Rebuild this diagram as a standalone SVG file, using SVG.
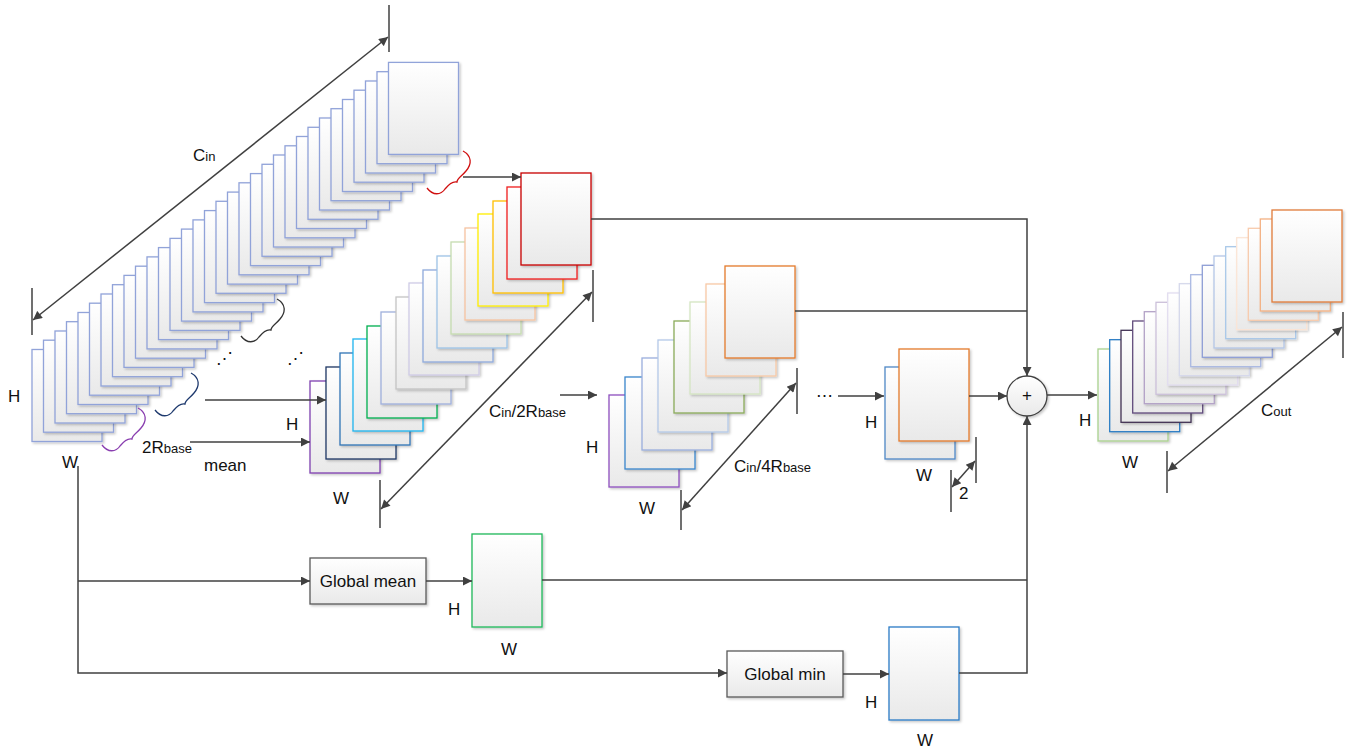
<svg xmlns="http://www.w3.org/2000/svg" width="1355" height="748" viewBox="0 0 1355 748">
<defs>
<linearGradient id="g" x1="0" y1="0" x2="0" y2="1"><stop offset="0" stop-color="#ffffff"/><stop offset="1" stop-color="#e9e9e9"/></linearGradient>
<filter id="ds" x="-10%" y="-10%" width="130%" height="130%"><feDropShadow dx="1.5" dy="1.5" stdDeviation="1" flood-color="#000" flood-opacity="0.22"/></filter>
<marker id="ah" viewBox="0 0 10 10" refX="10" refY="5" markerWidth="11" markerHeight="9" markerUnits="userSpaceOnUse" orient="auto-start-reverse"><path d="M0,0 L10,5 L0,10 z" fill="#404040"/></marker>
<path id="brace" d="M0,0 C9,5 9,13 3,20 C-1,25 -6,27 -6,31 C-10,30 -14,33 -18,38 C-22,44 -30,45 -36,37"/>
</defs>
<style>
.sh{fill:url(#g);stroke-width:1.3;filter:url(#ds)}
.s1 rect{stroke:#91a3d9}
.ln{fill:none;stroke:#404040;stroke-width:1.5}
.ar{marker-end:url(#ah)}
.da{marker-start:url(#ah);marker-end:url(#ah)}
.br{fill:none;stroke-width:1.3}
text{font-family:"Liberation Sans",Arial,sans-serif;fill:#111;font-size:17px}
.sub{font-size:13px}
.box{fill:url(#g);stroke:#595959;stroke-width:1.3;filter:url(#ds)}
</style>

<g id="input-stack" class="s1">
<rect class="sh" x="32" y="349.5" width="70" height="92"/>
<rect class="sh" x="43.5" y="340.2" width="70" height="92"/>
<rect class="sh" x="55" y="331" width="70" height="92"/>
<rect class="sh" x="66.5" y="321.7" width="70" height="92"/>
<rect class="sh" x="78" y="312.5" width="70" height="92"/>
<rect class="sh" x="89.5" y="303.2" width="70" height="92"/>
<rect class="sh" x="101" y="294" width="70" height="92"/>
<rect class="sh" x="112.5" y="284.7" width="70" height="92"/>
<rect class="sh" x="124" y="275.4" width="70" height="92"/>
<rect class="sh" x="135.5" y="266.2" width="70" height="92"/>
<rect class="sh" x="147" y="256.9" width="70" height="92"/>
<rect class="sh" x="158.5" y="247.6" width="70" height="92"/>
<rect class="sh" x="170" y="238.4" width="70" height="92"/>
<rect class="sh" x="181.5" y="229.1" width="70" height="92"/>
<rect class="sh" x="193" y="219.9" width="70" height="92"/>
<rect class="sh" x="204.5" y="210.6" width="70" height="92"/>
<rect class="sh" x="216" y="201.3" width="70" height="92"/>
<rect class="sh" x="227.5" y="192.1" width="70" height="92"/>
<rect class="sh" x="239" y="182.8" width="70" height="92"/>
<rect class="sh" x="250.5" y="173.6" width="70" height="92"/>
<rect class="sh" x="262" y="164.3" width="70" height="92"/>
<rect class="sh" x="273.5" y="155" width="70" height="92"/>
<rect class="sh" x="285" y="145.8" width="70" height="92"/>
<rect class="sh" x="296.5" y="136.5" width="70" height="92"/>
<rect class="sh" x="308" y="127.3" width="70" height="92"/>
<rect class="sh" x="319.5" y="118" width="70" height="92"/>
<rect class="sh" x="331" y="108.7" width="70" height="92"/>
<rect class="sh" x="342.5" y="99.5" width="70" height="92"/>
<rect class="sh" x="354" y="90.2" width="70" height="92"/>
<rect class="sh" x="365.5" y="81" width="70" height="92"/>
<rect class="sh" x="377" y="71.7" width="70" height="92"/>
<rect class="sh" x="388.5" y="62.4" width="70" height="92"/>
</g>

<g id="braces">
<use href="#brace" class="br" stroke="#d01010" x="463" y="151"/>
<use href="#brace" class="br" stroke="#333333" x="277" y="299"/>
<use href="#brace" class="br" stroke="#1f3a6e" x="191" y="373"/>
<use href="#brace" class="br" stroke="#8a3fb0" x="138" y="408"/>
</g>

<g id="stack2">
<rect class="sh" x="310" y="381" width="70" height="92" stroke="#7f40b0"/>
<rect class="sh" x="326" y="367" width="70" height="92" stroke="#203864"/>
<rect class="sh" x="340" y="353" width="70" height="92" stroke="#2e75b6"/>
<rect class="sh" x="353" y="339" width="70" height="92" stroke="#1fb4ef"/>
<rect class="sh" x="367" y="326" width="70" height="92" stroke="#00b050"/>
<rect class="sh" x="381" y="312" width="70" height="92" stroke="#9fb0dc"/>
<rect class="sh" x="396" y="297" width="70" height="92" stroke="#c4c4c4"/>
<rect class="sh" x="409" y="283" width="70" height="92" stroke="#cfcbe6"/>
<rect class="sh" x="423" y="270" width="70" height="92" stroke="#8faadc"/>
<rect class="sh" x="437" y="256" width="70" height="92" stroke="#9dc3e6"/>
<rect class="sh" x="451" y="242" width="70" height="92" stroke="#c5dcb0"/>
<rect class="sh" x="465" y="228" width="70" height="92" stroke="#f6c3a0"/>
<rect class="sh" x="478" y="214" width="70" height="92" stroke="#ffee00"/>
<rect class="sh" x="493" y="201" width="70" height="92" stroke="#ffbf00"/>
<rect class="sh" x="507" y="187" width="70" height="92" stroke="#f02020"/>
<rect class="sh" x="521" y="173" width="70" height="92" stroke="#c80000"/>
</g>

<g id="stack3">
<rect class="sh" x="609" y="395" width="70" height="92" stroke="#8e4fbf"/>
<rect class="sh" x="625" y="377" width="70" height="92" stroke="#3a86cc"/>
<rect class="sh" x="642" y="358" width="70" height="92" stroke="#9aaede"/>
<rect class="sh" x="658" y="340" width="70" height="92" stroke="#b4c9e8"/>
<rect class="sh" x="674" y="321" width="70" height="92" stroke="#8aab5a"/>
<rect class="sh" x="690" y="302" width="70" height="92" stroke="#d4e5c2"/>
<rect class="sh" x="706" y="284" width="70" height="92" stroke="#f8c9a6"/>
<rect class="sh" x="725" y="266" width="70" height="92" stroke="#e47a2c"/>
</g>

<g id="stack4">
<rect class="sh" x="885" y="367" width="70" height="92" stroke="#4f88c6"/>
<rect class="sh" x="899" y="349" width="70" height="92" stroke="#e47a2c"/>
</g>

<g id="sum">
<circle cx="1027" cy="396" r="20" fill="url(#g)" stroke="#404040" stroke-width="1.3" filter="url(#ds)"/>
<text x="1027" y="401" text-anchor="middle" font-size="15">+</text>
</g>

<g id="output-stack">
<rect class="sh" x="1098" y="349" width="70" height="92" stroke="#a9d18e"/>
<rect class="sh" x="1109.7" y="339.7" width="70" height="92" stroke="#2a7cc4"/>
<rect class="sh" x="1121" y="330.3" width="70" height="92" stroke="#403152"/>
<rect class="sh" x="1132.7" y="321" width="70" height="92" stroke="#604a7b"/>
<rect class="sh" x="1144.3" y="311.7" width="70" height="92" stroke="#b3a2c7"/>
<rect class="sh" x="1156" y="302.3" width="70" height="92" stroke="#ccc1da"/>
<rect class="sh" x="1167.7" y="293" width="70" height="92" stroke="#e2ddf0"/>
<rect class="sh" x="1179.3" y="283.7" width="70" height="92" stroke="#d6d9ec"/>
<rect class="sh" x="1190.7" y="274.7" width="70" height="92" stroke="#aab8e2"/>
<rect class="sh" x="1202.3" y="265.3" width="70" height="92" stroke="#8e9ed6"/>
<rect class="sh" x="1214" y="256" width="70" height="92" stroke="#b4c7e7"/>
<rect class="sh" x="1225.7" y="246.7" width="70" height="92" stroke="#a9c8e8"/>
<rect class="sh" x="1236.7" y="237.7" width="70" height="92" stroke="#fbe5d6"/>
<rect class="sh" x="1248.3" y="228.3" width="70" height="92" stroke="#f8cbad"/>
<rect class="sh" x="1260.3" y="219" width="70" height="92" stroke="#f4b183"/>
<rect class="sh" x="1272" y="210" width="70" height="92" stroke="#e07b39"/>
</g>

<g id="global-mean">
<rect class="box" x="310" y="558" width="116" height="46"/>
<text x="368" y="587" text-anchor="middle" font-size="18.5">Global mean</text>
</g>
<g id="mean-map">
<rect class="sh" x="472" y="534" width="70" height="93" stroke="#1fb85a"/>
</g>
<g id="global-min">
<rect class="box" x="727" y="651" width="116" height="46"/>
<text x="785" y="680" text-anchor="middle" font-size="18.5">Global min</text>
</g>
<g id="min-map">
<rect class="sh" x="889" y="627" width="70" height="93" stroke="#2a7cc7"/>
</g>

<g id="connectors">
<line class="ln ar" x1="463" y1="177" x2="521" y2="177"/>
<line class="ln ar" x1="205" y1="400" x2="326" y2="400"/>
<line class="ln ar" x1="190" y1="442" x2="310" y2="442"/>
<polyline class="ln ar" points="591,219 1027,219 1027,376"/>
<line class="ln" x1="795" y1="311" x2="1027" y2="311"/>
<line class="ln ar" x1="560" y1="395" x2="597" y2="395"/>
<line class="ln ar" x1="838" y1="396" x2="884" y2="396"/>
<line class="ln ar" x1="969" y1="396" x2="1007" y2="396"/>
<line class="ln ar" x1="1047" y1="395" x2="1097" y2="395"/>
<polyline class="ln ar" points="78,466 78,673 727,673"/>
<line class="ln ar" x1="78" y1="581" x2="310" y2="581"/>
<line class="ln ar" x1="426" y1="581" x2="472" y2="581"/>
<line class="ln ar" x1="843" y1="674" x2="889" y2="674"/>
<line class="ln" x1="542" y1="580" x2="1027" y2="580"/>
<polyline class="ln ar" points="959,673 1027,673 1027,416"/>
<line class="ln" x1="389" y1="5" x2="389" y2="52"/>
<line class="ln" x1="32" y1="288" x2="32" y2="335"/>
<line class="ln da" x1="33" y1="320" x2="388" y2="37"/>
<line class="ln" x1="593" y1="270" x2="593" y2="322"/>
<line class="ln" x1="380" y1="480" x2="380" y2="528"/>
<line class="ln da" x1="381" y1="509" x2="592" y2="292"/>
<line class="ln" x1="797" y1="368" x2="797" y2="414"/>
<line class="ln" x1="681" y1="490" x2="681" y2="530"/>
<line class="ln da" x1="682" y1="510" x2="796" y2="383"/>
<line class="ln" x1="976" y1="437" x2="976" y2="483"/>
<line class="ln" x1="951" y1="470" x2="951" y2="512"/>
<line class="ln da" x1="952" y1="487" x2="975" y2="461"/>
<line class="ln" x1="1343" y1="312" x2="1343" y2="358"/>
<line class="ln" x1="1167" y1="451" x2="1167" y2="493"/>
<line class="ln da" x1="1168" y1="471" x2="1342" y2="327"/>
</g>

<g id="labels">
<text x="193" y="161">C<tspan class="sub">in</tspan></text>
<text x="8" y="402">H</text>
<text x="62" y="468">W</text>
<text x="142" y="453">2R<tspan class="sub">base</tspan></text>
<text x="204" y="471">mean</text>
<text x="216" y="364" font-family="DejaVu Sans" font-size="13">⋰</text>
<text x="287" y="364" font-family="DejaVu Sans" font-size="13">⋰</text>
<text x="286" y="430">H</text>
<text x="333" y="504">W</text>
<text x="489" y="417">C<tspan class="sub">in</tspan>/2R<tspan class="sub">base</tspan></text>
<text x="586" y="453">H</text>
<text x="639" y="514">W</text>
<text x="734" y="472">C<tspan class="sub">in</tspan>/4R<tspan class="sub">base</tspan></text>
<text x="816" y="401" font-family="DejaVu Sans" font-size="13">⋯</text>
<text x="865" y="428">H</text>
<text x="916" y="481">W</text>
<text x="959" y="499" font-size="16">2</text>
<text x="1079" y="426">H</text>
<text x="1122" y="468">W</text>
<text x="1261" y="416">C<tspan class="sub">out</tspan></text>
<text x="448" y="615">H</text>
<text x="501" y="655">W</text>
<text x="865" y="708">H</text>
<text x="917" y="746">W</text>
</g>
</svg>
